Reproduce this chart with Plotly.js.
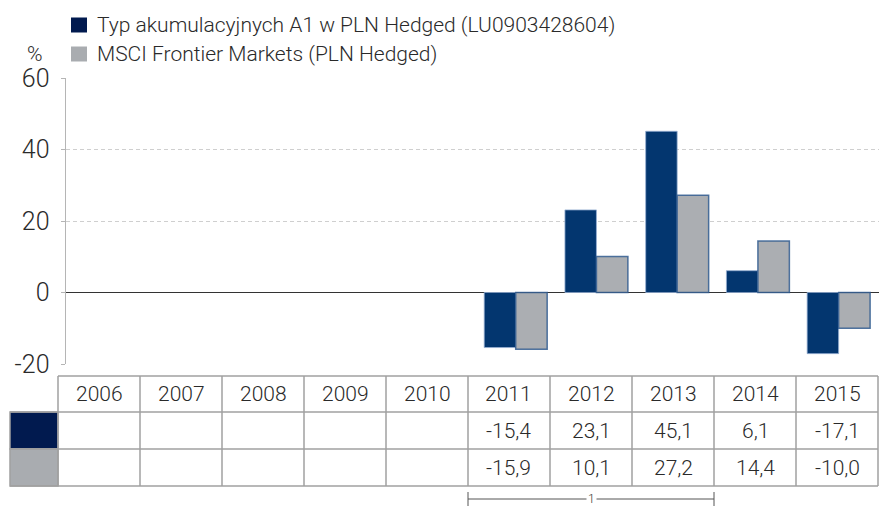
<!DOCTYPE html>
<html>
<head>
<meta charset="utf-8">
<script src="https://cdn.plot.ly/plotly-3.0.1.min.js"></script>
<style>html,body{margin:0;padding:0;background:#fff;}#chart{width:879px;height:508px;}</style>
</head>
<body>
<div id="chart"></div>
<script>
// ---- data ----
const years = ['2006','2007','2008','2009','2010','2011','2012','2013','2014','2015'];
const fundName = 'Typ akumulacyjnych A1 w PLN Hedged (LU0903428604)';
const indexName = 'MSCI Frontier Markets (PLN Hedged)';
const fundValues = [null, null, null, null, null, -15.4, 23.1, 45.1, 6.1, -17.1];
const indexValues = [null, null, null, null, null, -15.9, 10.1, 27.2, 14.4, -10.0];
const yTicks = [-20, 0, 20, 40, 60];
const yUnit = '%';
const footnoteLabel = '1';
const footnoteFrom = '2011';
const footnoteTo = '2013';

// ---- style ----
const FONT = 'Roboto, "Liberation Sans", Arial, sans-serif';
const WEIGHT = 300;
const TXT = '#2a2a2a';
const DARK = '#03366f';
const GREY = '#abaeb2';
const SW_DARK = '#011a4f';
const SW_GREY = '#a9acb0';
const BORDER = '#a0a0a0';

// plot area in pixels
const W = 879, H = 508;
const L = 66, R = 879, T = 78, B = 364;
const px = x => (x - L) / (R - L);
const py = y => (B - y) / (B - T);

function fmt(v) { return v === null ? '' : v.toFixed(1).replace('.', ','); }

const traces = [
  {type: 'bar', x: years, y: fundValues, name: fundName,
   marker: {color: DARK, line: {color: 'rgba(150,175,210,0.8)', width: 1}}, hoverinfo: 'skip'},
  {type: 'bar', x: years, y: indexValues, name: indexName,
   marker: {color: GREY, line: {color: 'rgba(40,85,140,0.8)', width: 1.5}}, hoverinfo: 'skip'}
];

const shapes = [];
const annotations = [];
const f = (size, color) => ({family: FONT, size: size, color: color || TXT, weight: WEIGHT});

// legend
const legendItems = [[fundName, SW_DARK], [indexName, SW_GREY]];
legendItems.forEach((it, i) => {
  const cy = 25 + i * 29;
  shapes.push({type: 'rect', xref: 'paper', yref: 'paper',
    x0: px(71), x1: px(87), y0: py(cy - 7.5), y1: py(cy + 7.5),
    fillcolor: it[1], line: {width: 0}});
  annotations.push({xref: 'paper', yref: 'paper', x: px(95), y: py(cy), xanchor: 'left', yanchor: 'middle',
    text: it[0], showarrow: false, font: f(21)});
});
annotations.push({xref: 'paper', yref: 'paper', x: px(35), y: py(54), xanchor: 'center', yanchor: 'middle',
  text: yUnit, showarrow: false, font: f(21)});

// table
const colX0 = 58, colW = 82, swX0 = 10;
const rowY = [376, 412, 449, 486];
const n = years.length;
const tableRight = colX0 + n * colW;
[[SW_DARK, 1], [SW_GREY, 2]].forEach(s => {
  shapes.push({type: 'rect', xref: 'paper', yref: 'paper',
    x0: px(swX0), x1: px(colX0), y0: py(rowY[s[1]]), y1: py(rowY[s[1] + 1]),
    fillcolor: s[0], line: {color: BORDER, width: 1.5}});
});
rowY.forEach((y, i) => {
  shapes.push({type: 'line', xref: 'paper', yref: 'paper',
    x0: px(i === 0 ? colX0 : swX0), x1: px(tableRight), y0: py(y), y1: py(y),
    line: {color: BORDER, width: 1.5}});
});
for (let c = 0; c <= n; c++) {
  const x = colX0 + c * colW;
  shapes.push({type: 'line', xref: 'paper', yref: 'paper',
    x0: px(x), x1: px(x), y0: py(rowY[0]), y1: py(rowY[3]),
    line: {color: BORDER, width: 1.5}});
}
const rows = [years, fundValues.map(fmt), indexValues.map(fmt)];
rows.forEach((row, r) => {
  row.forEach((t, c) => {
    if (t === '') return;
    annotations.push({xref: 'paper', yref: 'paper',
      x: px(colX0 + c * colW + colW / 2), y: py((rowY[r] + rowY[r + 1]) / 2),
      xanchor: 'center', yanchor: 'middle', text: t, showarrow: false, font: f(21)});
  });
});
// footnote bracket
const fi0 = years.indexOf(footnoteFrom), fi1 = years.indexOf(footnoteTo);
const bx0 = colX0 + fi0 * colW, bx1 = colX0 + (fi1 + 1) * colW;
const by = 499;
shapes.push({type: 'line', xref: 'paper', yref: 'paper', x0: px(bx0), x1: px(bx1), y0: py(by), y1: py(by),
  line: {color: '#555', width: 1}});
[bx0, bx1].forEach(x => shapes.push({type: 'line', xref: 'paper', yref: 'paper',
  x0: px(x), x1: px(x), y0: py(492), y1: py(506), line: {color: '#555', width: 1}}));
annotations.push({xref: 'paper', yref: 'paper', x: px((bx0 + bx1) / 2), y: py(by), xanchor: 'center', yanchor: 'middle',
  text: footnoteLabel, showarrow: false, bgcolor: '#fff', borderpad: 1, font: f(12, '#333')});

const layout = {
  width: W, height: H,
  margin: {l: L, r: W - R, t: T, b: H - B, pad: 0},
  paper_bgcolor: '#fff', plot_bgcolor: '#fff',
  showlegend: false,
  barmode: 'group', bargap: 0.22, bargroupgap: 0,
  font: {family: FONT, color: TXT, weight: WEIGHT},
  xaxis: {type: 'category', range: [-0.57, 9.5], showticklabels: false, showgrid: false,
    zeroline: false, showline: false, ticks: '', fixedrange: true},
  yaxis: {range: [-20, 60], tickvals: yTicks, ticktext: yTicks.map(String),
    showline: true, linecolor: '#b5b5b5', linewidth: 1.5,
    ticks: 'outside', ticklen: 4, tickcolor: '#b5b5b5', tickwidth: 1,
    showgrid: true, gridcolor: '#cfcfcf', gridwidth: 1, griddash: '4px,3px',
    zeroline: true, zerolinecolor: '#333', zerolinewidth: 1.5,
    tickfont: f(25), ticklabelstandoff: 6, fixedrange: true},
  shapes: shapes,
  annotations: annotations
};

Plotly.newPlot('chart', traces, layout, {displayModeBar: false, staticPlot: true});
</script>
</body>
</html>
